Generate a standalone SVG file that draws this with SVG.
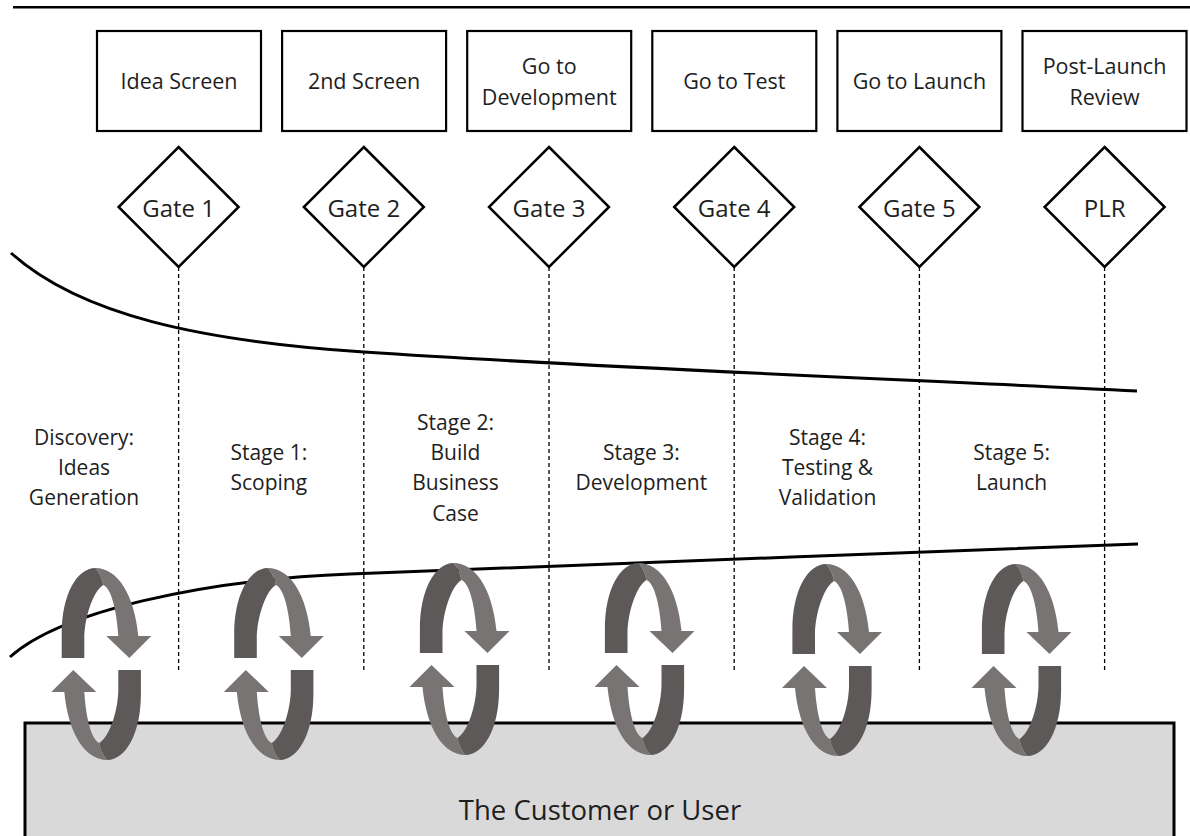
<svg xmlns="http://www.w3.org/2000/svg" xmlns:xlink="http://www.w3.org/1999/xlink" width="1190" height="836" viewBox="0 0 1190 836">
<style>
  .box { fill: #ffffff; stroke: #000000; stroke-width: 2.2; }
  .dia { fill: #ffffff; stroke: #000000; stroke-width: 2.5; stroke-linejoin: miter; }
  .dash { stroke: #000000; stroke-width: 1.3; stroke-dasharray: 4 3; fill: none; }
  .curve { fill: none; stroke: #000000; stroke-width: 3; stroke-linecap: butt; }
  .t { font-family: "Open Sans", "Noto Sans", sans-serif; fill: #1e1e1e; text-anchor: middle; }
  .bt { font-size: 21.5px; }
  .gt { font-size: 24px; }
  .st { font-size: 21px; }
  .ct { font-size: 27.5px; }
  .dk { fill: #5d5958; }
  .lt { fill: #787473; }
</style>
<defs>
  <g id="half">
    <path class="lt" d="M-6,-96 C16,-96 33,-70 37,-28 L50,-28 L28,-6 L5,-28 L17,-28 C15,-58 9,-76 2,-79 C1,-85 -2,-92 -6,-96 Z"/>
    <path class="dk" d="M-39.6,-6 L-39.6,-30 C-39.6,-70 -24,-96 -6,-96 C-2,-92 1,-85 2,-79 C-9,-72 -17,-45 -17,-25 L-17,-6 Z"/>
  </g>
  <g id="cycle">
    <use xlink:href="#half" href="#half"/>
    <use xlink:href="#half" href="#half" transform="rotate(180)"/>
  </g>
</defs>

<rect width="1190" height="836" fill="#ffffff"/>

<!-- top rule -->
<line x1="13" y1="7.2" x2="1190" y2="7.2" stroke="#000" stroke-width="2.6"/>

<!-- customer base -->
<g id="customer">
  <rect x="25" y="723" width="1149" height="140" fill="#d9d9d9" stroke="#000" stroke-width="3"/>
</g>

<!-- connectors: dashed gate lines and flow curves -->
<g id="connectors">
  <line class="dash" x1="178.6" y1="267" x2="178.6" y2="672"/>
  <line class="dash" x1="363.8" y1="267" x2="363.8" y2="672"/>
  <line class="dash" x1="549" y1="267" x2="549" y2="672"/>
  <line class="dash" x1="734.2" y1="267" x2="734.2" y2="672"/>
  <line class="dash" x1="919.4" y1="267" x2="919.4" y2="672"/>
  <line class="dash" x1="1104.6" y1="267" x2="1104.6" y2="672"/>
  <path class="curve" d="M11,253 C80,315 200,341 364,352 C620,369 900,379 1137,391"/>
  <path class="curve" d="M10,657 C60,612 200,580 350,574 C550,566 900,553 1138,544"/>
</g>

<!-- decision boxes -->
<g id="box1"><rect class="box" x="97" y="31" width="164" height="100"/><text class="t bt" x="179" y="89">Idea Screen</text></g>
<g id="box2"><rect class="box" x="282.1" y="31" width="164" height="100"/><text class="t bt" x="364.1" y="89">2nd Screen</text></g>
<g id="box3"><rect class="box" x="467.2" y="31" width="164" height="100"/><text class="t bt" x="549.2" y="74">Go to</text><text class="t bt" x="549.2" y="105">Development</text></g>
<g id="box4"><rect class="box" x="652.3" y="31" width="164" height="100"/><text class="t bt" x="734.3" y="89">Go to Test</text></g>
<g id="box5"><rect class="box" x="837.4" y="31" width="164" height="100"/><text class="t bt" x="919.4" y="89">Go to Launch</text></g>
<g id="box6"><rect class="box" x="1022.5" y="31" width="164" height="100"/><text class="t bt" x="1104.5" y="74">Post-Launch</text><text class="t bt" x="1104.5" y="105">Review</text></g>

<!-- gates -->
<g id="gate1"><polygon class="dia" points="178.6,147 238.6,207 178.6,267 118.6,207"/><text class="t gt" x="178.6" y="216.5">Gate 1</text></g>
<g id="gate2"><polygon class="dia" points="363.8,147 423.8,207 363.8,267 303.8,207"/><text class="t gt" x="363.8" y="216.5">Gate 2</text></g>
<g id="gate3"><polygon class="dia" points="549,147 609,207 549,267 489,207"/><text class="t gt" x="549" y="216.5">Gate 3</text></g>
<g id="gate4"><polygon class="dia" points="734.2,147 794.2,207 734.2,267 674.2,207"/><text class="t gt" x="734.2" y="216.5">Gate 4</text></g>
<g id="gate5"><polygon class="dia" points="919.4,147 979.4,207 919.4,267 859.4,207"/><text class="t gt" x="919.4" y="216.5">Gate 5</text></g>
<g id="gatePLR"><polygon class="dia" points="1104.6,147 1164.6,207 1104.6,267 1044.6,207"/><text class="t gt" x="1104.6" y="216.5">PLR</text></g>

<!-- stages -->
<g id="stage0"><text class="t st" x="84" y="444.5">Discovery:</text><text class="t st" x="84" y="474.8">Ideas</text><text class="t st" x="84" y="505.1">Generation</text></g>
<g id="stage1"><text class="t st" x="268.8" y="460">Stage 1:</text><text class="t st" x="268.8" y="490.3">Scoping</text></g>
<g id="stage2"><text class="t st" x="455.5" y="429.7">Stage 2:</text><text class="t st" x="455.5" y="460">Build</text><text class="t st" x="455.5" y="490.3">Business</text><text class="t st" x="455.5" y="520.6">Case</text></g>
<g id="stage3"><text class="t st" x="641.3" y="460">Stage 3:</text><text class="t st" x="641.3" y="490.3">Development</text></g>
<g id="stage4"><text class="t st" x="827.5" y="444.5">Stage 4:</text><text class="t st" x="827.5" y="474.8">Testing &amp;</text><text class="t st" x="827.5" y="505.1">Validation</text></g>
<g id="stage5"><text class="t st" x="1011.6" y="460">Stage 5:</text><text class="t st" x="1011.6" y="490.3">Launch</text></g>

<!-- iteration cycles -->
<g id="cycles">
  <use xlink:href="#cycle" href="#cycle" transform="translate(101.3,664)"/>
  <use xlink:href="#cycle" href="#cycle" transform="translate(273.8,664)"/>
  <use xlink:href="#cycle" href="#cycle" transform="translate(459.5,659)"/>
  <use xlink:href="#cycle" href="#cycle" transform="translate(644.5,659)"/>
  <use xlink:href="#cycle" href="#cycle" transform="translate(832,660)"/>
  <use xlink:href="#cycle" href="#cycle" transform="translate(1021.5,660)"/>
</g>

<text class="t ct" x="600" y="820">The Customer or User</text>
</svg>
